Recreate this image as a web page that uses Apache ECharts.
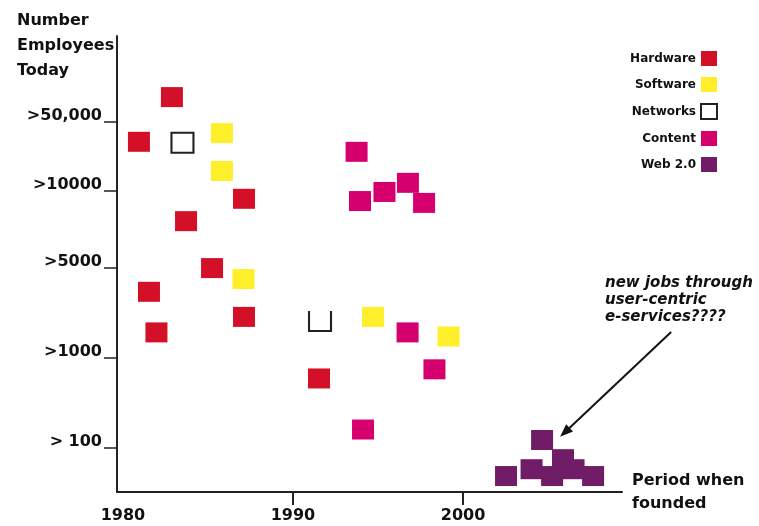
<!DOCTYPE html>
<html>
<head>
<meta charset="utf-8">
<script src="https://cdn.jsdelivr.net/npm/echarts@6/dist/echarts.min.js"></script>
<style>
html,body{margin:0;padding:0;background:#fff;}
#chart{width:759px;height:526px;}
</style>
</head>
<body>
<div id="chart"></div>
<script>
// Year founded (x) and employee-size band position (y, 0..10 scale)
const hardware = [[1982.88, 8.66], [1980.94, 7.68], [1987.12, 6.43], [1983.71, 5.94], [1985.24, 4.91], [1981.53, 4.39], [1987.12, 3.84], [1981.97, 3.50], [1991.53, 2.49]];
const software = [[1985.82, 7.87], [1985.82, 7.04], [1987.09, 4.67], [1994.71, 3.84], [1999.15, 3.41]];
const networks = [[1983.50, 7.66], [1991.59, 3.75]];
const content = [[1993.74, 7.46], [1993.94, 6.38], [1995.38, 6.58], [1996.76, 6.78], [1997.71, 6.34], [1996.74, 3.50], [1998.32, 2.69], [1994.12, 1.37]];
const web20 = [[2002.53, 0.35], [2004.03, 0.50], [2004.65, 1.14], [2005.24, 0.35], [2005.88, 0.72], [2006.50, 0.50], [2007.65, 0.35]];

const seriesNames = ['Hardware', 'Software', 'Networks', 'Content', 'Web 2.0'];
const xTickValues = [1980, 1990, 2000];
const xTickMarks = [1990, 2000];
const yTickValues = [0.965, 2.94, 4.91, 6.60, 8.11];
const yTickLabels = ['> 100', '>1000', '>5000', '>10000', '>50,000'];
const arrowFrom = [2012.24, 3.51];
const arrowTo = [2005.71, 1.21];
const annotation = 'new jobs through\nuser-centric\ne-services????';

const FONT = 'DejaVu Sans';
const INK = '#111';
const sym = [22, 20];

const chart = echarts.init(document.getElementById('chart'), null, {renderer: 'canvas'});

const networkData = networks.map((p, i) => i === 1
  ? {value: p, symbol: 'path://M0,0L0,10L10,10L10,0', itemStyle: {color: 'none', borderColor: '#222', borderWidth: 2}}
  : {value: p});

const annotationText = {
  type: 'text', id: 'note', left: 605, top: 275,
  style: {text: annotation, font: 'italic bold 15px "DejaVu Sans"', lineHeight: 17, fill: INK}
};

chart.setOption({
  animation: false,
  backgroundColor: '#fff',
  title: {
    text: 'Number\nEmployees\nToday',
    left: 12, top: 3,
    textStyle: {fontFamily: FONT, fontSize: 16, fontWeight: 'bold', color: INK, lineHeight: 25}
  },
  legend: {
    orient: 'vertical',
    right: 36, top: 46,
    align: 'right',
    itemWidth: 16, itemHeight: 15, itemGap: 11,
    data: seriesNames,
    textStyle: {fontFamily: FONT, fontSize: 12, fontWeight: 'bold', color: INK}
  },
  grid: {left: 117, right: 137, top: 36, bottom: 34, containLabel: false, outerBoundsMode: 'none'},
  xAxis: {
    type: 'value', min: 1979.65, max: 2009.35,
    axisLine: {show: true, lineStyle: {color: '#222', width: 2}},
    axisTick: {show: true, customValues: xTickMarks, length: 13, lineStyle: {color: '#222', width: 2}},
    axisLabel: {customValues: xTickValues, formatter: v => String(Math.round(v)), margin: 16,
      fontFamily: FONT, fontSize: 16, fontWeight: 'bold', color: INK},
    splitLine: {show: false},
    name: 'Period when\nfounded', nameLocation: 'end', nameGap: 10,
    nameTextStyle: {fontFamily: FONT, fontSize: 16, fontWeight: 'bold', color: INK, align: 'left', verticalAlign: 'middle', lineHeight: 23}
  },
  yAxis: {
    type: 'value', min: 0, max: 10,
    axisLine: {show: true, lineStyle: {color: '#222', width: 2}},
    axisTick: {show: true, customValues: yTickValues, length: 13, lineStyle: {color: '#222', width: 1.5}},
    axisLabel: {customValues: yTickValues, margin: 15, verticalAlign: 'bottom', lineHeight: 12,
      formatter: v => {
        let best = 0, d = Infinity;
        yTickValues.forEach((t, i) => { if (Math.abs(t - v) < d) { d = Math.abs(t - v); best = i; } });
        return yTickLabels[best];
      },
      fontFamily: FONT, fontSize: 16, fontWeight: 'bold', color: INK},
    splitLine: {show: false}
  },
  graphic: [annotationText],
  series: [
    {name: 'Hardware', type: 'scatter', symbol: 'rect', symbolSize: sym, data: hardware, itemStyle: {color: '#D31027', opacity: 1}},
    {name: 'Software', type: 'scatter', symbol: 'rect', symbolSize: sym, data: software, itemStyle: {color: '#FFEE2A', opacity: 1}},
    {name: 'Networks', type: 'scatter', symbol: 'rect', symbolSize: sym, data: networkData, itemStyle: {color: '#fff', borderColor: '#222', borderWidth: 2, opacity: 1}},
    {name: 'Content', type: 'scatter', symbol: 'rect', symbolSize: sym, data: content, itemStyle: {color: '#D5006E', opacity: 1}},
    {name: 'Web 2.0', type: 'scatter', symbol: 'rect', symbolSize: sym, data: web20, itemStyle: {color: '#701C66', opacity: 1}}
  ]
});

// Annotation arrow placed through the chart's own coordinate conversion
const p0 = chart.convertToPixel({gridIndex: 0}, arrowFrom);
const p1 = chart.convertToPixel({gridIndex: 0}, arrowTo);
const dx = p1[0] - p0[0], dy = p1[1] - p0[1];
const len = Math.sqrt(dx * dx + dy * dy);
const ux = dx / len, uy = dy / len;
const headLen = 13, headHalf = 5;
const bx = p1[0] - ux * headLen, by = p1[1] - uy * headLen;
const nx = -uy, ny = ux;
chart.setOption({
  graphic: [
    annotationText,
    {type: 'line', id: 'arrowLine', shape: {x1: p0[0], y1: p0[1], x2: bx + ux * 2, y2: by + uy * 2},
      style: {stroke: INK, lineWidth: 2}},
    {type: 'polygon', id: 'arrowHead', shape: {points: [[p1[0], p1[1]], [bx + nx * headHalf, by + ny * headHalf], [bx - nx * headHalf, by - ny * headHalf]]},
      style: {fill: INK}}
  ]
});
</script>
</body>
</html>
